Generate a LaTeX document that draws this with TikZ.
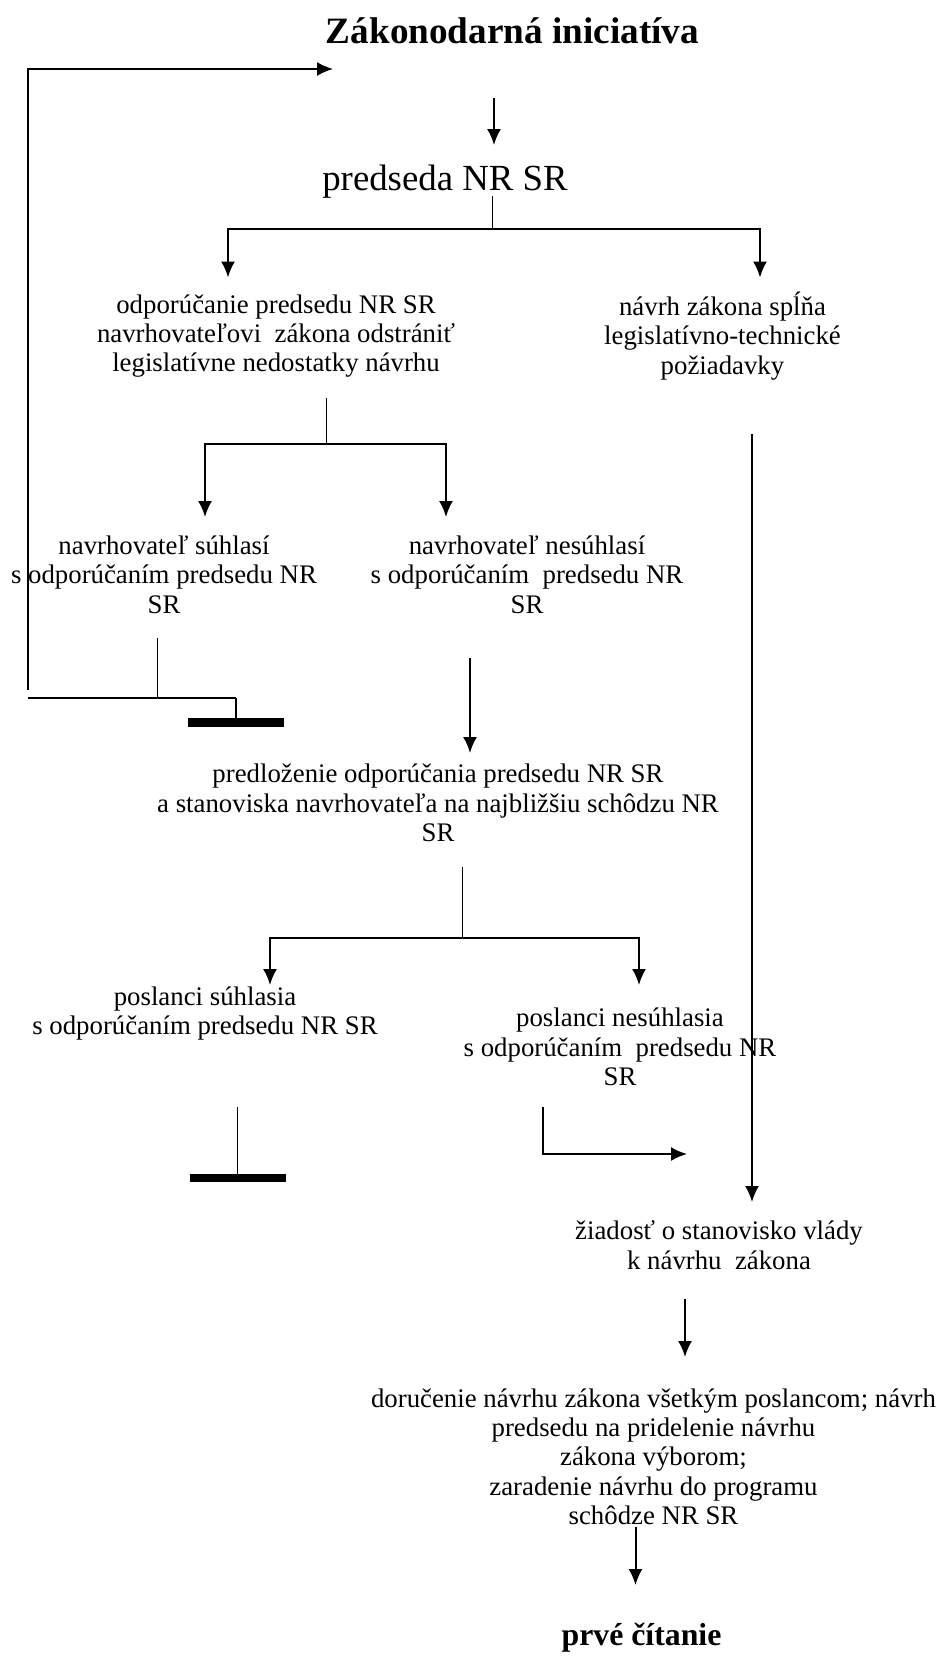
\documentclass[tikz,border=0pt]{standalone}
\usepackage{fontspec}
\setmainfont{Liberation Serif}
\usetikzlibrary{arrows.meta}
\tikzset{my_flow/.style={>={Latex[length=8pt,width=7pt]},line width=1pt}}
\tikzset{my_text/.style={align=center, inner sep=0pt, font=\fontsize{13.4}{14.7}\selectfont}}
\tikzset{my_big/.style={inner sep=0pt, font=\fontsize{18.4}{20}\selectfont}}
\tikzset{my_title/.style={inner sep=0pt, font=\fontsize{18.6}{20}\selectfont\bfseries}}
\tikzset{my_end/.style={inner sep=0pt, font=\fontsize{15.9}{18}\selectfont\bfseries}}
\tikzset{my_stem/.style={line width=0.5pt}}
\tikzset{my_loop/.style={line width=0.8pt}}
\tikzset{my_stop/.style={line width=4.2pt}}

\begin{document}
\begin{tikzpicture}[my_flow, x=0.5pt, y=-0.5pt]
    \useasboundingbox (0,0) rectangle (936,1656);
    %\draw[help lines, step=100] (0,0) grid (936,1656);
    \node[my_title, anchor=base] (init) at (512.5,43) {Zákonodarná iniciatíva};
    \node[my_big, anchor=base] (pred) at (445,190) {predseda NR SR};
    \node[my_text] (odpor) at (276,336) {odporúčanie predsedu NR SR\\navrhovateľovi~ zákona odstrániť\\legislatívne nedostatky návrhu};
    \node[my_text] (spln) at (722.5,336) {návrh zákona spĺňa\\legislatívno-technické\\požiadavky};
    \node[my_text] (suhl) at (164,574.5) {navrhovateľ súhlasí\\s odporúčaním predsedu NR\\SR};
    \node[my_text] (nesuhl) at (527,574.5) {navrhovateľ nesúhlasí\\s odporúčaním~ predsedu NR\\SR};
    \node[my_text] (predloz) at (438,803) {predloženie odporúčania predsedu NR SR\\a stanoviska navrhovateľa na najbližšiu schôdzu NR\\SR};
    \node[my_text] (possuhl) at (205,1013.5) {poslanci súhlasia\\s odporúčaním predsedu NR SR};
    \node[my_text] (posnes) at (620,1047) {poslanci nesúhlasia\\s odporúčaním~ predsedu NR\\SR};
    \node[my_text] (ziad) at (719,1245) {žiadosť o stanovisko vlády\\k návrhu~ zákona};
    \node[my_text] (doruc) at (653.5,1456.7) {doručenie návrhu zákona všetkým poslancom; návrh\\predsedu na pridelenie návrhu\\zákona výborom;\\zaradenie návrhu do programu\\schôdze NR SR};
    \node[my_end, anchor=base] (prve) at (641.5,1645) {prvé čítanie};

    % end points of the connectors
    \coordinate (init_out) at (494,98);   \coordinate (pred_in) at (494,145);
    \coordinate (pred_out) at (492,196);  \coordinate (pred_fork) at (492,229);
    \coordinate (odpor_in) at (228,277.5); \coordinate (spln_in) at (760,277.5);
    \coordinate (odpor_out) at (326,398); \coordinate (odpor_fork) at (326,444);
    \coordinate (suhl_in) at (205,517);   \coordinate (nesuhl_in) at (446,517);
    \coordinate (spln_out) at (752,434);  \coordinate (ziad_in) at (752,1202);
    \coordinate (suhl_out) at (157,638);  \coordinate (suhl_fork) at (157,698);
    \coordinate (back_low) at (28,690);   \coordinate (back_tip) at (333,69);
    \coordinate (stop_one) at (236,718);
    \coordinate (nesuhl_out) at (470,658); \coordinate (predloz_in) at (470,753);
    \coordinate (predloz_out) at (462,867); \coordinate (predloz_fork) at (462,938);
    \coordinate (possuhl_in) at (270,985); \coordinate (posnes_in) at (639,985);
    \coordinate (possuhl_out) at (237.6,1107); \coordinate (stop_two) at (237.6,1174);
    \coordinate (posnes_out) at (543,1107); \coordinate (posnes_tip) at (687,1154);
    \coordinate (ziad_out) at (685,1299); \coordinate (doruc_in) at (685,1357);
    \coordinate (doruc_out) at (635.5,1527); \coordinate (prve_in) at (635.5,1585);

    \draw[->] (init_out) -- (pred_in);
    \draw[my_stem] (pred_out) -- (pred_fork);
    \draw[->] (pred_fork) -| (odpor_in);
    \draw[->] (pred_fork) -| (spln_in);
    \draw[my_stem] (odpor_out) -- (odpor_fork);
    \draw[->] (odpor_fork) -| (suhl_in);
    \draw[->] (odpor_fork) -| (nesuhl_in);
    \draw[->] (spln_out) -- (ziad_in);

    % back to the initiative, or stop
    \draw[my_stem] (suhl_out) -- (suhl_fork);
    \draw[my_loop] (suhl_fork) -- (suhl_fork -| back_low) (stop_one |- suhl_fork) -- (suhl_fork);
    \draw[my_loop] (stop_one |- suhl_fork) -- (stop_one);
    \draw[my_loop, ->] (back_low) |- (back_tip);
    \draw[my_stop] ([xshift=-24pt,yshift=-2.2pt]stop_one) -- ([xshift=24pt,yshift=-2.2pt]stop_one);

    \draw[->] (nesuhl_out) -- (predloz_in);
    \draw[my_stem] (predloz_out) -- (predloz_fork);
    \draw[->] (predloz_fork) -| (possuhl_in);
    \draw[->] (predloz_fork) -| (posnes_in);
    \draw[my_stem] (possuhl_out) -- (stop_two);
    \draw[my_stop] ([xshift=-24pt,yshift=-2pt]stop_two) -- ([xshift=24pt,yshift=-2pt]stop_two);
    \draw[->] (posnes_out) |- (posnes_tip);
    \draw[->] (ziad_out) -- (doruc_in);
    \draw[->] (doruc_out) -- (prve_in);
\end{tikzpicture}
\end{document}
